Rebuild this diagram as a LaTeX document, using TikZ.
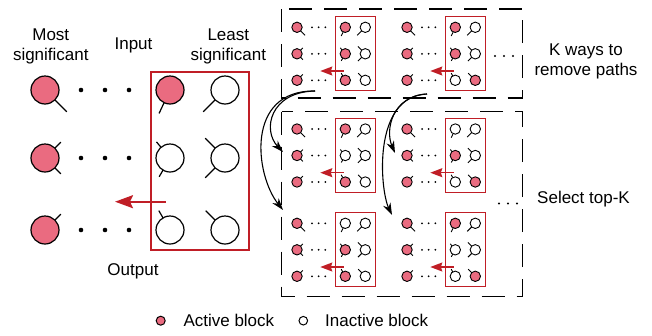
\documentclass[tikz,border=0pt]{standalone}
\usepackage{fontspec}
\setmainfont{Liberation Sans}
\usetikzlibrary{arrows.meta}
\definecolor{pk}{RGB}{234,107,128}
\definecolor{rd}{RGB}{192,30,38}
% cell: name, x, y, radius, fill, tails (angle/end-factor)
\newcommand\cell[6]{%
  \node[cellc, minimum size={2*(#4)*1pt}, fill=#5] (#1) at (#2,#3) {};
  \foreach \a/\e in {#6}{\draw (#1.center) ++(\a:#4) -- ++(\a:{(\e-1)*(#4)});}%
}
% small panel: prefix, x, y, fills r1c3 r1c4 r2c3 r2c4 r3c3 r3c4
\newcommand\spanel[9]{%
  \begin{scope}[shift={(#2,#3)}, line width=0.9pt]
    \cell{#1a1}{0}{0}{5.2}{pk}{45/2.2}
    \cell{#1a3}{48.3}{0}{5.2}{#4}{115/1.85}
    \cell{#1a4}{68.3}{0}{5.2}{#5}{135/2.2}
    \cell{#1b1}{0}{26.5}{5.2}{pk}{-45/1.6,45/1.6}
    \cell{#1b3}{48.3}{26.5}{5.2}{#6}{-130/1.5,120/1.55}
    \cell{#1b4}{68.3}{26.5}{5.2}{#7}{-135/2.0,135/2.0}
    \cell{#1c1}{0}{53}{5.2}{pk}{-45/1.6}
    \cell{#1c3}{48.3}{53}{5.2}{#8}{-120/1.6}
    \cell{#1c4}{68.3}{53}{5.2}{#9}{-135/1.95}
    \foreach \yy in {0,26.5,53}{\foreach \xx in {15,21.6,28.3}{\fill (\xx,\yy) circle[radius=1];}}
    \draw[rd, line width=1.2pt] (38.3,-10.5) rectangle (78.3,63.5);
    \coordinate (#1from) at (46.6,43.7);
    \coordinate (#1to) at (23.3,43.7);
    \draw[rd, line width=1.3pt, -{Stealth[length=12pt,width=9pt,inset=1.5pt]}] (#1from) -- (#1to);
  \end{scope}
}
\begin{document}
\begin{tikzpicture}[x=1pt,y=-1pt,
  cellc/.style={circle,draw=black,inner sep=0pt,outer sep=0pt},
  lbl/.style={font=\fontsize{17}{20}\selectfont, inner sep=0pt, align=center},
  dashbox/.style={draw=black, line width=1.3pt, dash pattern=on 23pt off 12pt},
  carrow/.style={draw=black, line width=1.1pt, -{Stealth[length=12pt,width=8pt]}},
]
\useasboundingbox (0,0) rectangle (652,335);

% ---- left big panel ----
\begin{scope}[line width=1.2pt]
  \cell{m1}{45}{90}{14}{pk}{45/2.2}
  \cell{i1}{170}{90}{14}{pk}{115/1.85}
  \cell{l1}{225}{90}{14}{white}{135/2.2}
  \cell{m2}{45}{158}{14}{pk}{-45/1.6,45/1.6}
  \cell{i2}{170}{158}{14}{white}{-130/1.5,120/1.55}
  \cell{l2}{225}{158}{14}{white}{-135/2.0,135/2.0}
  \cell{m3}{45}{230}{14}{pk}{-45/1.6}
  \cell{i3}{170}{230}{14}{white}{-120/1.6}
  \cell{l3}{225}{230}{14}{white}{-135/1.95}
\end{scope}
\foreach \yy in {90,158,230}{\foreach \xx in {81,105,129}{\fill (\xx,\yy) circle[radius=2.3];}}
\draw[rd, line width=2.2pt] (150.7,71.7) rectangle (249.3,250);
\coordinate (bigfrom) at (165.7,201.7);
\coordinate (bigto) at (115,201.7);
\draw[rd, line width=2.2pt, -{Stealth[length=18pt,width=13pt,inset=3pt]}] (bigfrom) -- (bigto);

\node[lbl] (most) at (50.8,46) {Most\\significant};
\node[lbl, anchor=base] (inp) at (133.5,49.3) {Input};
\node[lbl] (least) at (228.3,46) {Least\\significant};
\node[lbl, anchor=base] (out) at (133,275.5) {Output};

% ---- dashed boxes ----
\draw[dashbox] (281.7,9) rectangle (522.7,98);
\draw[dashbox] (281.7,111.5) rectangle (522.2,296.5);

% ---- small panels ----
\spanel{A}{297}{27.3}{pk}{white}{pk}{white}{pk}{white}
\spanel{B}{407}{27.3}{pk}{white}{pk}{white}{white}{pk}
\spanel{C}{297}{129}{pk}{white}{white}{white}{pk}{white}
\spanel{D}{407}{129}{white}{white}{pk}{white}{white}{pk}
\spanel{E}{297}{223.3}{white}{white}{pk}{white}{pk}{white}
\spanel{F}{407}{223.3}{pk}{white}{white}{white}{white}{pk}

\foreach \xx in {495,504,513}{\fill (\xx,56) circle[radius=1.1];}
\foreach \xx in {499,508,517}{\fill (\xx,203.5) circle[radius=1.1];}

\node[lbl] (kways) at (586,61) {K ways to\\remove paths};
\node[lbl, anchor=base west] (sel) at (537,203.5) {Select top-K};

% ---- curved arrows ----
\coordinate (sA) at (315,91);
\coordinate (tC) at (283,152);
\coordinate (tE) at (283,210);
\coordinate (sB) at (427,94);
\coordinate (tD) at (395,153);
\coordinate (tF) at (392,215);
\draw[carrow] (sA) .. controls (270,92) and (262,130) .. (tC);
\draw[carrow] (sA) .. controls (245,90) and (255,175) .. (tE);
\draw[carrow] (sB) .. controls (392,96) and (385,130) .. (tD);
\draw[carrow] (sB) .. controls (372,96) and (380,190) .. (tF);

% ---- legend ----
\node[cellc, line width=1pt, minimum size=9pt, fill=pk] (lgA) at (160.7,320.7) {};
\node[lbl, anchor=base west] (lgAt) at (183.3,326) {Active block};
\node[cellc, line width=1pt, minimum size=8.6pt, fill=white] (lgI) at (303.3,320.7) {};
\node[lbl, anchor=base west] (lgIt) at (325,326) {Inactive block};
\end{tikzpicture}
\end{document}
